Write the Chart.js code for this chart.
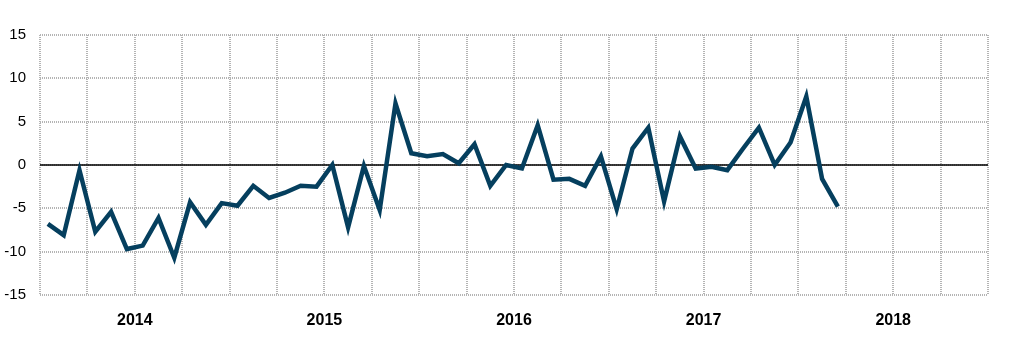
<!DOCTYPE html>
<html>
<head>
<meta charset="utf-8">
<script src="https://cdn.jsdelivr.net/npm/chart.js@4"></script>
<style>
  html, body { margin: 0; padding: 0; background: #fff; }
  #wrap { width: 1030px; height: 361px; }
</style>
</head>
<body>
<div id="wrap"><canvas id="chart"></canvas></div>
<script>
// monthly values, Jan 2014 .. Mar 2018
var values = [
  -6.8, -8.1, -0.6, -7.7, -5.4, -9.7, -9.3, -6.1, -10.7, -4.3, -6.9, -4.4,
  -4.7, -2.4, -3.8, -3.2, -2.4, -2.5, 0.0, -7.2, -0.1, -5.2, 7.1, 1.35,
  1.0, 1.27, 0.2, 2.4, -2.4, 0.0, -0.4, 4.6, -1.7, -1.6, -2.4, 1.0,
  -5.1, 1.9, 4.3, -4.2, 3.3, -0.4, -0.2, -0.6, 1.9, 4.3, 0.0, 2.6,
  7.9, -1.6, -4.8
];
var years = ['2014', '2015', '2016', '2017', '2018'];
var yTicks = [-15, -10, -5, 0, 5, 10, 15];

var points = values.map(function(v, i) { return { x: i + 0.5, y: v }; });
var monthsTotal = years.length * 12;

var Cnvs = document.getElementById('chart');
var fontFamily = "'Liberation Sans', Arial, sans-serif";

var lineChart = new Chart(Cnvs, {
  type: 'line',
  data: {
    datasets: [{
      data: points,
      borderColor: '#053f5e',
      borderWidth: 4.5,
      pointRadius: 0,
      tension: 0,
      borderJoinStyle: 'miter'
    }, {
      data: [{ x: 0, y: 0 }, { x: monthsTotal, y: 0 }],
      borderColor: '#000',
      borderWidth: 1.5,
      pointRadius: 0
    }]
  },
  options: {
    responsive: true,
    maintainAspectRatio: false,
    animation: false,
    events: [],
    layout: { padding: { top: 35, right: 42, left: 0, bottom: 0 } },
    plugins: { legend: { display: false }, tooltip: { enabled: false } },
    scales: {
      x: {
        type: 'linear',
        min: 0,
        max: monthsTotal,
        afterFit: function(scale) { scale.height = 66; },
        afterBuildTicks: function(scale) {
          var t = [];
          for (var m = 0; m <= monthsTotal; m += 3) t.push({ value: m });
          scale.ticks = t;
        },
        grid: { color: '#b4b4b4', lineWidth: 2, drawTicks: false },
        border: { display: false, dash: [1, 1] },
        ticks: {
          autoSkip: false,
          maxRotation: 0,
          padding: 16,
          color: '#000',
          font: { family: fontFamily, size: 16, weight: 'bold' },
          callback: function(v) {
            return (v % 12 === 6) ? years[(v - 6) / 12] : '';
          }
        }
      },
      y: {
        min: -15,
        max: 15,
        afterFit: function(scale) { scale.width = 40; },
        afterBuildTicks: function(scale) {
          scale.ticks = yTicks.map(function(v) { return { value: v }; });
        },
        grid: { color: '#b4b4b4', lineWidth: 2, drawTicks: false },
        border: { display: false, dash: [1, 1] },
        ticks: {
          padding: 14,
          color: '#000',
          font: { family: fontFamily, size: 15 }
        }
      }
    }
  }
});
</script>
</body>
</html>
